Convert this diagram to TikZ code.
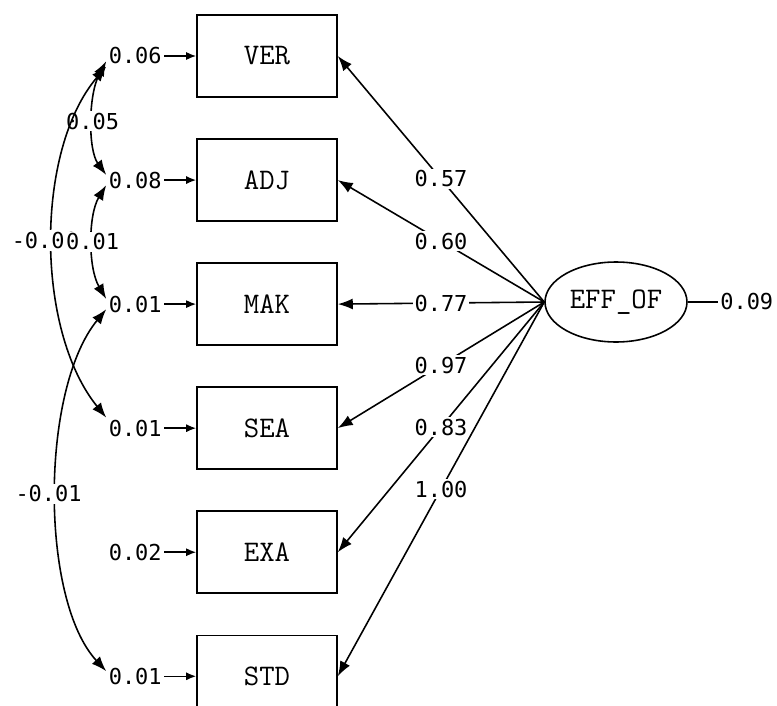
\documentclass[tikz,border=0pt]{standalone}
\usepackage{fontspec}
\newfontfamily\numfont{DejaVu Sans Mono}
\usetikzlibrary{arrows.meta,positioning,shapes.geometric}

\begin{document}
\begin{tikzpicture}[x=0.02cm,y=-0.02cm,line width=0.9pt,>={Latex[length=3mm,width=2.2mm]},box/.style={draw,minimum height=16.4mm,minimum width=28mm,font=\fontsize{17}{19}\selectfont\ttfamily},err/.style={inner sep=1pt,font=\fontsize{12.5}{15}\selectfont\numfont},coef/.style={midway,fill=white,inner sep=1pt,font=\fontsize{12.5}{15}\selectfont\numfont}]
\useasboundingbox (0,0) rectangle (777,706);
\node[box] (ver) at (267,56) {VER};
\node[box,below=8.1mm of ver] (adj) {ADJ};
\node[box,below=8.1mm of adj] (mak) {MAK};
\node[box,below=8.1mm of mak] (sea) {SEA};
\node[box,below=8.1mm of sea] (exa) {EXA};
\node[box,below=8.1mm of exa] (std) {STD};
\node[draw,ellipse,minimum width=28.4mm,minimum height=16mm,inner sep=0pt,font=\fontsize{17}{19}\selectfont\ttfamily] (eff) at (616,302) {EFF\_OF};
% error terms
\node[err,left=6.4mm of ver] (e1) {0.06};
\node[err,left=6.4mm of adj] (e2) {0.08};
\node[err,left=6.4mm of mak] (e3) {0.01};
\node[err,left=6.4mm of sea] (e4) {0.01};
\node[err,left=6.4mm of exa] (e5) {0.02};
\node[err,left=6.4mm of std] (e6) {0.01};
\foreach \e/\b in {e1/ver,e2/adj,e3/mak,e4/sea,e5/exa,e6/std}
  \draw[-{Latex[length=2mm,width=1.6mm]}] (\e) -- (\b);
\node[err,right=6mm of eff] (e7) {0.09};
\draw (eff) -- (e7);
% loadings
\draw[->] (eff.west) -- node[coef] {0.57} (ver.east);
\draw[->] (eff.west) -- node[coef] {0.60} (adj.east);
\draw[->] (eff.west) -- node[coef] {0.77} (mak.east);
\draw[->] (eff.west) -- node[coef] {0.97} (sea.east);
\draw[->] (eff.west) -- node[coef] {0.83} (exa.east);
\draw[->] (eff.west) -- node[coef] {1.00} (std.east);
% covariances
\draw[<->] (e1.190) .. controls (88,95) and (88,150) .. node[coef] {0.05} (e2.170);
\draw[<->] (e1.200) .. controls (35,150) and (35,330) .. node[coef,xshift=-1.6mm] {-0.00} (e4.160);
\draw[<->] (e2.190) .. controls (88,215) and (88,268) .. node[coef] {0.01} (e3.170);
\draw[<->] (e3.190) .. controls (40,390) and (40,600) .. node[coef,xshift=-1.6mm] {-0.01} (e6.170);
\end{tikzpicture}
\end{document}
